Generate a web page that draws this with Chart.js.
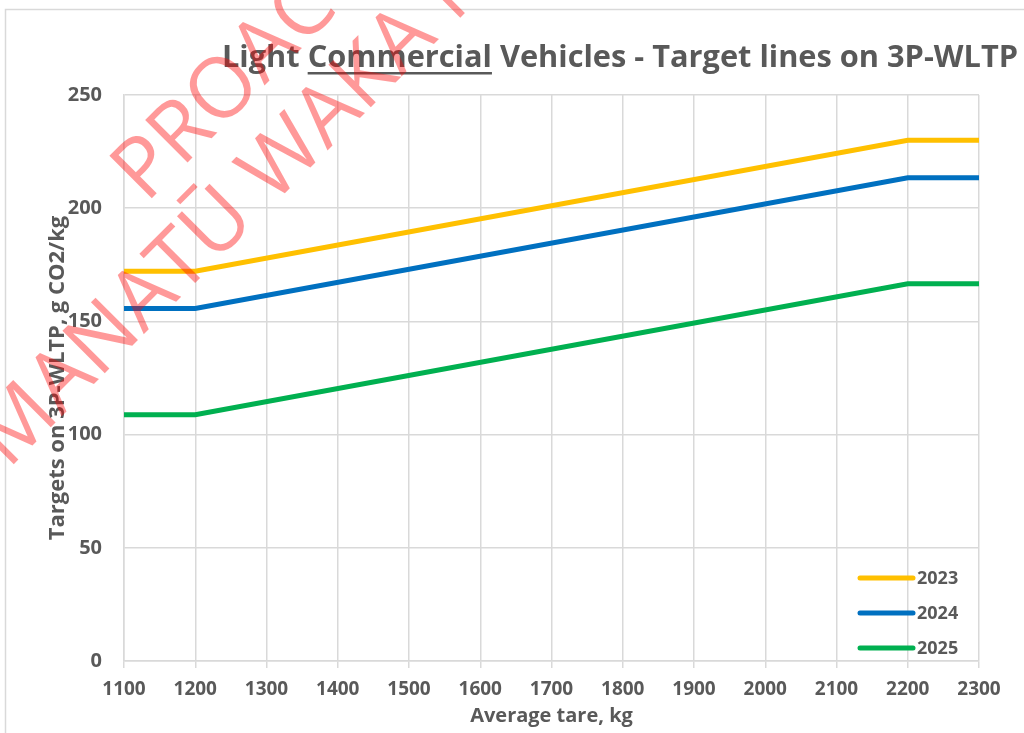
<!DOCTYPE html>
<html>
<head>
<meta charset="utf-8">
<title>Light Commercial Vehicles - Target lines on 3P-WLTP</title>
<script src="https://cdn.jsdelivr.net/npm/chart.js@4.4.0/dist/chart.umd.min.js"></script>
<style>
    html, body { margin: 0; padding: 0; background: #ffffff; }
    #wrap { width: 1024px; height: 733px; position: relative; }
</style>
</head>
<body>
<div id="wrap"><canvas id="targetCanvas"></canvas></div>
<script>
// values
const tareKg = [1100, 1200, 2200, 2300];
const target2023 = [172.2, 172.2, 230, 230];
const target2024 = [155.7, 155.7, 213.4, 213.4];
const target2025 = [108.8, 108.8, 166.6, 166.6];

const seriesNames = ["2023", "2024", "2025"];
const seriesColors = ["#FFC000", "#0070C0", "#00B050"];

const titleParts = ["Light ", "Commercial", " Vehicles - Target lines on 3P-WLTP"];
const xAxisTitle = "Average tare, kg";
const yAxisTitle = "Targets on 3P-WLTP, g CO2/kg";
const watermarkLines = ["PROACTIVELY RELEASED", "TE MANATŪ WAKA MINISTRY OF TRANSPORT"];

const textGrey = "#595959";
const gridGrey = "#d9d9d9";
const fontFamily = "'Open Sans', 'DejaVu Sans', sans-serif";

function toPoints(values) {
    return tareKg.map((x, i) => ({ x: x, y: values[i] }));
}

const seriesValues = [target2023, target2024, target2025];

// frame, title (with underlined word), legend inside the plot, watermark
const decorations = {
    id: "decorations",
    beforeDraw(chart) {
        const ctx = chart.ctx;
        ctx.save();
        ctx.strokeStyle = gridGrey;
        ctx.lineWidth = 1.5;
        ctx.strokeRect(5.5, 9.5, chart.width + 20, chart.height + 20);
        ctx.restore();
    },
    afterDraw(chart) {
        const ctx = chart.ctx;
        const area = chart.chartArea;

        // title
        ctx.save();
        ctx.font = "bold 31px " + fontFamily;
        ctx.fillStyle = textGrey;
        ctx.textBaseline = "alphabetic";
        const fullWidth = ctx.measureText(titleParts.join("")).width;
        const sx = 796 / fullWidth;
        ctx.translate(222, 67);
        ctx.scale(sx, 1);
        let cx = 0;
        titleParts.forEach((part, i) => {
            ctx.fillText(part, cx, 0);
            const w = ctx.measureText(part).width;
            if (i === 1) {
                ctx.fillRect(cx, 5, w, 2.5);
            }
            cx += w;
        });
        ctx.restore();

        // legend
        ctx.save();
        ctx.font = "bold 18px " + fontFamily;
        ctx.textBaseline = "middle";
        ctx.textAlign = "left";
        chart.data.datasets.forEach((ds, i) => {
            const y = area.bottom - 83 + i * 35;
            ctx.strokeStyle = ds.borderColor;
            ctx.lineWidth = 5;
            ctx.lineCap = "round";
            ctx.beginPath();
            ctx.moveTo(area.right - 119, y);
            ctx.lineTo(area.right - 66, y);
            ctx.stroke();
            ctx.fillStyle = textGrey;
            ctx.fillText(ds.label, area.right - 62, y + 1);
        });
        ctx.restore();

        // watermark
        ctx.save();
        ctx.font = "84px " + fontFamily;
        ctx.fillStyle = "rgba(255, 0, 0, 0.4)";
        ctx.textBaseline = "alphabetic";
        ctx.save();
        ctx.translate(146, 204);
        ctx.rotate(-Math.PI / 4);
        ctx.fillText(watermarkLines[0], 0, 0);
        ctx.restore();
        ctx.save();
        ctx.translate(8, 470);
        ctx.rotate(-Math.PI / 4);
        const lead = ctx.measureText("TE ").width;
        ctx.fillText(watermarkLines[1], -lead, 0);
        ctx.restore();
        ctx.restore();
    }
};

const canvas = document.getElementById("targetCanvas");
const chart = new Chart(canvas.getContext("2d"), {
    type: "line",
    data: {
        datasets: seriesNames.map((name, i) => ({
            label: name,
            data: toPoints(seriesValues[i]),
            borderColor: seriesColors[i],
            backgroundColor: seriesColors[i],
            borderWidth: 5,
            pointRadius: 0,
            tension: 0,
            fill: false
        }))
    },
    options: {
        responsive: true,
        maintainAspectRatio: false,
        animation: false,
        layout: { padding: { top: 95, right: 45, left: 45, bottom: 0 } },
        plugins: {
            legend: { display: false },
            tooltip: { enabled: false }
        },
        scales: {
            x: {
                type: "linear",
                min: 1100,
                max: 2300,
                afterFit: scale => { scale.height = 72; },
                ticks: {
                    stepSize: 100,
                    padding: 10,
                    color: textGrey,
                    font: { family: fontFamily, size: 19, weight: "bold" },
                    callback: v => String(v)
                },
                grid: { color: gridGrey, lineWidth: 1.5, drawTicks: true, tickLength: 7 },
                border: { color: gridGrey, width: 1.5 },
                title: {
                    display: true,
                    text: xAxisTitle,
                    color: textGrey,
                    font: { family: fontFamily, size: 20, weight: "bold" },
                    padding: { top: 0, bottom: 5 }
                }
            },
            y: {
                min: 0,
                max: 250,
                afterFit: scale => { scale.width = 79; },
                ticks: {
                    stepSize: 50,
                    padding: 22,
                    color: textGrey,
                    font: { family: fontFamily, size: 20, weight: "bold" }
                },
                grid: { color: gridGrey, lineWidth: 1.5, drawTicks: false },
                border: { color: gridGrey, width: 1.5 },
                title: {
                    display: true,
                    text: yAxisTitle,
                    color: textGrey,
                    font: { family: fontFamily, size: 22, weight: "bold" },
                    padding: { top: 0, bottom: 0 }
                }
            }
        }
    },
    plugins: [decorations]
});
</script>
</body>
</html>
